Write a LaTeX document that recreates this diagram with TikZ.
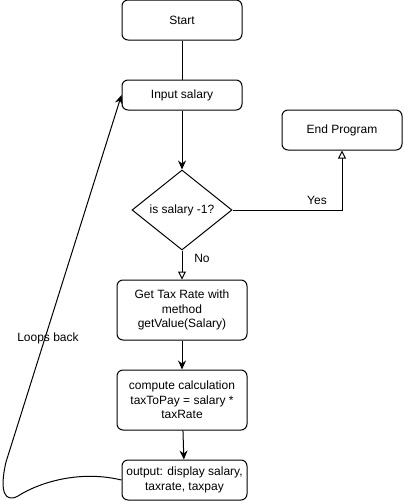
\documentclass[tikz,border=0pt]{standalone}
\usepackage{fontspec}
\setmainfont{Liberation Sans}
\usetikzlibrary{arrows.meta,shapes.geometric}
\begin{document}
\begin{tikzpicture}[x=1pt,y=-1pt,
  box/.style={draw,line width=1pt,rounded corners=6pt,fill=white,inner sep=0pt,align=center,font=\fontsize{12}{14.4}\selectfont},
  dec/.style={draw,line width=1pt,diamond,aspect=1.25,fill=white,inner sep=0pt,minimum width=100pt,minimum height=80pt,font=\fontsize{12}{14.4}\selectfont},
  lbl/.style={inner sep=0pt,font=\fontsize{12}{14.4}\selectfont},
  ln/.style={line width=1pt},
  fa/.style={ln,-{Stealth[length=9pt,width=8pt,inset=3pt]}},
  oa/.style={ln,-{Triangle[open,length=8pt,width=8pt]}}]
\useasboundingbox (0,0) rectangle (404,501);
\node[box,minimum width=120pt,minimum height=40pt] (start) at (182,20) {Start};
\node[box,minimum width=120pt,minimum height=30pt] (input) at (182,95) {Input salary};
\node[box,minimum width=120pt,minimum height=40pt] (endp) at (342,130) {End Program};
\node[dec] (dec) at (182,210) {is salary -1?};
\node[box,minimum width=130pt,minimum height=60pt] (gettax) at (182,310) {Get Tax Rate with\\method\\getValue(Salary)};
\node[box,minimum width=130pt,minimum height=60pt] (comp) at (182,400) {compute calculation\\taxToPay = salary *\\taxRate};
\node[box,minimum width=125pt,minimum height=40pt] (outp) at (184.5,480) {output: display salary,\\taxrate, taxpay};
\draw[ln] (start) -- (input);
\draw[fa] (input) -- (dec);
\draw[oa] (dec.east) -- (342,210) -- (endp.south);
\node[lbl] (yes) at (317,200) {Yes};
\draw[oa] (dec.south) -- (gettax.north);
\node[lbl] (no) at (202,258) {No};
\draw[fa] (gettax) -- (comp);
\draw[fa] (comp) -- (outp);
\draw[fa] (outp.west) .. controls (80,470) and (40,482) .. (18,496) .. controls (5,503) and (-1,492) .. (6,462) -- (input.west);
\node[lbl] (loop) at (48,338) {Loops back};
\end{tikzpicture}
\end{document}
